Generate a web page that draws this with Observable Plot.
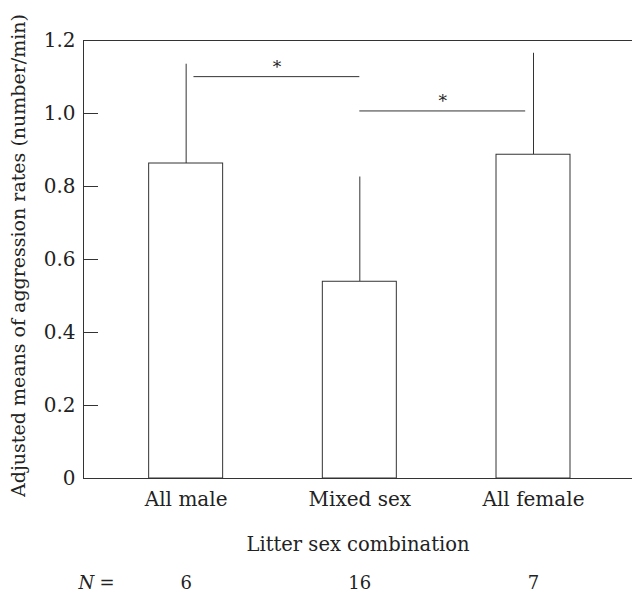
<!DOCTYPE html>
<html>
<head>
<meta charset="utf-8">
<script src="https://cdn.jsdelivr.net/npm/d3@7"></script>
<script src="https://cdn.jsdelivr.net/npm/@observablehq/plot@0.6"></script>
<style>
  html, body { margin: 0; padding: 0; background: white; }
</style>
</head>
<body>
<div id="chart"></div>
<script>
const categories = ["All male", "Mixed sex", "All female"];
const means = [0.863, 0.539, 0.887];
const upperErrors = [1.135, 0.826, 1.165];
const counts = [6, 16, 7];
const yTicks = [0, 0.2, 0.4, 0.6, 0.8, 1.0, 1.2];
const comparisonFrom = [0, 1];
const comparisonTo = [1, 2];
const comparisonY = [1.101, 1.007];
const comparisonLabel = ["*", "*"];

const data = categories.map((c, i) => ({i, category: c, mean: means[i], upper: upperErrors[i], n: counts[i]}));
const comps = comparisonFrom.map((f, k) => ({from: f, to: comparisonTo[k], y: comparisonY[k], label: comparisonLabel[k]}));

const W = 632, H = 595, ML = 83, MR = 0, MT = 40, MB = 117;
const xDomain = [-0.591, 2.57];
const pxPerUnit = (W - ML - MR) / (xDomain[1] - xDomain[0]);
const half = 0.213;
const gap = 0.045;
const tickLen = 15 / pxPerUnit;
const ink = "#333";
const txt = "#222";

const chart = Plot.plot({
  width: W, height: H,
  marginLeft: ML, marginRight: MR, marginTop: MT, marginBottom: MB,
  style: {fontFamily: "'DejaVu Serif', 'Liberation Serif', serif", fontSize: "19px", color: txt, background: "white", overflow: "visible"},
  x: {type: "linear", domain: xDomain, axis: null},
  y: {domain: [0, 1.2], axis: null},
  marks: [
    Plot.ruleY([0, 1.2], {stroke: ink, strokeWidth: 1}),
    Plot.ruleX([xDomain[0]], {y1: 0, y2: 1.2, stroke: ink, strokeWidth: 1}),
    Plot.ruleY(yTicks, {x1: xDomain[0], x2: xDomain[0] + tickLen, stroke: ink}),
    Plot.text(yTicks, {x: xDomain[0], y: d => d, text: d => d === 0 ? "0" : d.toFixed(1), textAnchor: "end", dx: -8, fontSize: 20, fill: txt}),
    Plot.ruleX(data, {x: "i", y1: "mean", y2: "upper", stroke: ink, strokeWidth: 1}),
    Plot.rect(data, {x1: d => d.i - half, x2: d => d.i + half, y1: 0, y2: "mean", fill: "white", stroke: ink, strokeWidth: 1}),
    Plot.ruleY(comps, {
      y: "y",
      x1: d => d.from + (upperErrors[d.from] > d.y ? gap : 0),
      x2: d => d.to - (upperErrors[d.to] > d.y ? gap : 0),
      stroke: ink, strokeWidth: 1
    }),
    Plot.text(comps, {
      x: d => (d.from + (upperErrors[d.from] > d.y ? gap : 0) + d.to - (upperErrors[d.to] > d.y ? gap : 0)) / 2,
      y: "y", text: "label", dy: -9, fontSize: 17, fill: txt
    }),
    Plot.text(data, {x: "i", y: 0, text: "category", dy: 21, fontSize: 20, fill: txt}),
    Plot.text(["Litter sex combination"], {frameAnchor: "bottom", textAnchor: "middle", dy: 72, fontSize: 19.5, fill: txt}),
    Plot.text(data, {x: "i", y: 0, text: d => String(d.n), dy: 105, fontSize: 18, fill: txt}),
    Plot.text(["N"], {frameAnchor: "bottom-left", dx: -5, dy: 105, lineAnchor: "middle", textAnchor: "start", fontStyle: "italic", fontSize: 18, fill: txt}),
    Plot.text(["="], {frameAnchor: "bottom-left", dx: 16, dy: 105, lineAnchor: "middle", textAnchor: "start", fontSize: 18, fill: txt}),
    Plot.text(["Adjusted means of aggression rates (number/min)"], {frameAnchor: "left", textAnchor: "middle", lineAnchor: "middle", rotate: -90, dx: -65, dy: -4, fontSize: 19, fill: txt})
  ]
});
document.getElementById("chart").appendChild(chart);
</script>
</body>
</html>
